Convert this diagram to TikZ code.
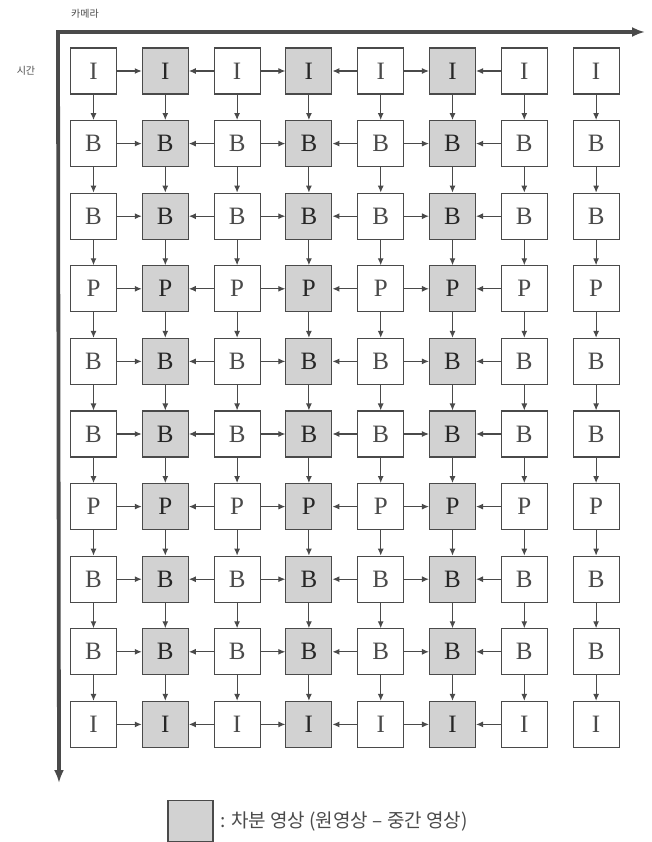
\documentclass[tikz,border=0pt]{standalone}
\usepackage{fontspec}
\newfontfamily\kr{Noto Sans CJK KR}
\newfontfamily\frm{Liberation Serif}
\usetikzlibrary{arrows.meta, positioning}
\definecolor{framegray}{HTML}{D2D2D2}
\definecolor{inkgray}{HTML}{4A4A4A}

\begin{document}
\begin{tikzpicture}[x=1pt, y=-1pt, >={Latex[length=7pt,width=6pt]}]
  % Styles
  \tikzstyle{frame} = [rectangle, draw=inkgray, line width=1.1pt, minimum size=46pt, inner sep=0pt, text=inkgray, font=\frm\fontsize{25}{25}\selectfont]
  \tikzstyle{diff} = [frame, fill=framegray, text=black!85]
  \tikzstyle{pred} = [draw=inkgray, line width=1.1pt, ->]
  \tikzstyle{axis} = [draw=inkgray, line width=3.8pt, {Latex[length=13pt,width=10pt]}-{Latex[length=13pt,width=10pt]}]
  \tikzstyle{label} = [text=inkgray, font=\kr\fontsize{10}{10}\selectfont]

  \useasboundingbox (0,0) rectangle (651,842);

  % Axes
  \coordinate (origin) at (58,32);
  \coordinate (camEnd) at (645,32);
  \coordinate (timeEnd) at (59,783);
  \draw[axis] (timeEnd) -- (origin) -- (camEnd);
  \node[label] (camLabel) at (85,14) {카메라};
  \node[label] (timeLabel) at (26,71) {시간};

  % Frames
  \foreach \t [count=\r] in {I,B,B,P,B,B,P,B,B,I}{
    \foreach \c/\s in {1/frame,2/diff,3/frame,4/diff,5/frame,6/diff,7/frame,8/frame}{
      \node[\s] (f-\r-\c) at ({93.5+(\c-1)*71.8},{71+(\r-1)*72.6}) {\t};
    }
  }

  % Horizontal predictions
  \foreach \r in {1,...,10}{
    \foreach \a/\b in {1/2,3/2,3/4,5/4,5/6,7/6}{
      \draw[pred] (f-\r-\a) -- (f-\r-\b);
    }
  }

  % Vertical predictions
  \foreach \r [evaluate=\r as \n using int(\r+1)] in {1,...,9}{
    \foreach \c in {1,...,8}{
      \draw[pred] (f-\r-\c) -- (f-\n-\c);
    }
  }

  % Legend
  \node[diff, minimum width=45pt, minimum height=41pt] (key) at (190.5,821) {};
  \node[right=3pt of key, text=inkgray, font=\kr\fontsize{19}{19}\selectfont] (keyText) {: 차분 영상 (원영상 – 중간 영상)};

\end{tikzpicture}
\end{document}
